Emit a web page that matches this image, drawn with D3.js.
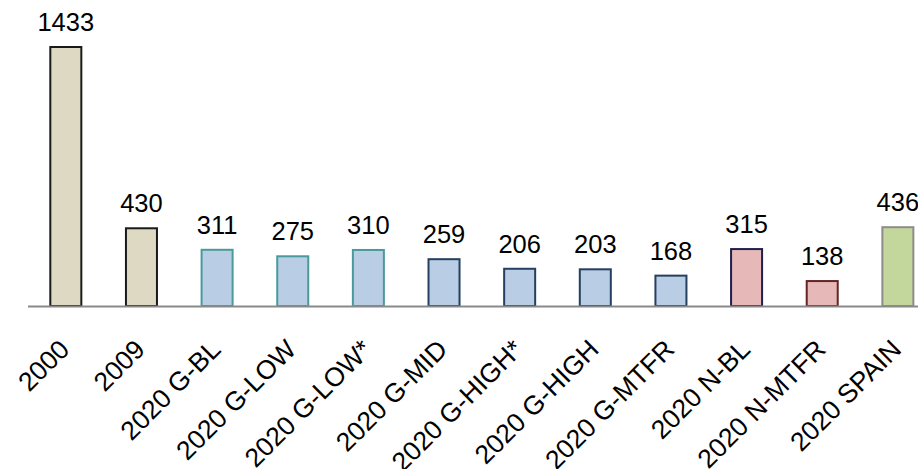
<!DOCTYPE html>
<html lang="en">
<head>
  <meta charset="UTF-8">
  <title>Bars 2000-2020</title>
  <script src="https://d3js.org/d3.v7.min.js"></script>
  <style>
    body { margin: 0; background: #fff; font-family: Arial, "Liberation Sans", sans-serif; }
  </style>
</head>
<body>
  <div id="chart"></div>
  <script>
    // Data
    const categories = ["2000", "2009", "2020 G-BL", "2020 G-LOW", "2020 G-LOW*", "2020 G-MID",
      "2020 G-HIGH*", "2020 G-HIGH", "2020 G-MTFR", "2020 N-BL", "2020 N-MTFR", "2020 SPAIN"];
    const values = [1433, 430, 311, 275, 310, 259, 206, 203, 168, 315, 138, 436];
    const fills = ["#ddd9c3", "#ddd9c3", "#b9cde5", "#b9cde5", "#b9cde5", "#b9cde5",
      "#b9cde5", "#b9cde5", "#b9cde5", "#e6b9b8", "#e6b9b8", "#c3d69b"];
    const strokes = ["#1a1a1a", "#1a1a1a", "#4a9a9c", "#4a9a9c", "#4a9a9c", "#243f60",
      "#243f60", "#243f60", "#243f60", "#1f1f4f", "#632423", "#8c8c8c"];

    const width = 918;
    const height = 469;
    const x0 = 28, step = 75.64;
    const baseY = 306, topY = 47;

    const svg = d3.select("#chart").append("svg")
        .attr("width", width)
        .attr("height", height);

    const x = d3.scaleBand()
        .domain(categories)
        .range([x0, x0 + step * categories.length])
        .paddingInner(0.59)
        .paddingOuter(0.295);

    const y = d3.scaleLinear()
        .domain([0, 1433])
        .range([baseY, topY]);

    // Bars
    svg.append("g")
      .selectAll("rect")
      .data(values)
      .join("rect")
        .attr("x", (d, i) => x(categories[i]))
        .attr("y", d => y(d))
        .attr("width", x.bandwidth())
        .attr("height", d => baseY - y(d))
        .attr("fill", (d, i) => fills[i])
        .attr("stroke", (d, i) => strokes[i])
        .attr("stroke-width", 2);

    // Value labels
    svg.append("g")
        .attr("font-size", 25.5)
        .attr("text-anchor", "middle")
        .attr("fill", "#000")
      .selectAll("text")
      .data(values)
      .join("text")
        .attr("x", (d, i) => x(categories[i]) + x.bandwidth() / 2)
        .attr("y", d => y(d) - 16)
        .text(d => d);

    // Baseline
    svg.append("line")
        .attr("x1", x0).attr("x2", width)
        .attr("y1", baseY + 0.5).attr("y2", baseY + 0.5)
        .attr("stroke", "#898989")
        .attr("stroke-width", 2);

    // Rotated category labels
    svg.append("g")
        .attr("font-size", 26.5)
        .attr("text-anchor", "end")
        .attr("fill", "#000")
      .selectAll("text")
      .data(categories)
      .join("text")
        .attr("transform", d => `translate(${x(d) + x.bandwidth() / 2 + 5},351) rotate(-45)`)
        .text(d => d);
  </script>
</body>
</html>
